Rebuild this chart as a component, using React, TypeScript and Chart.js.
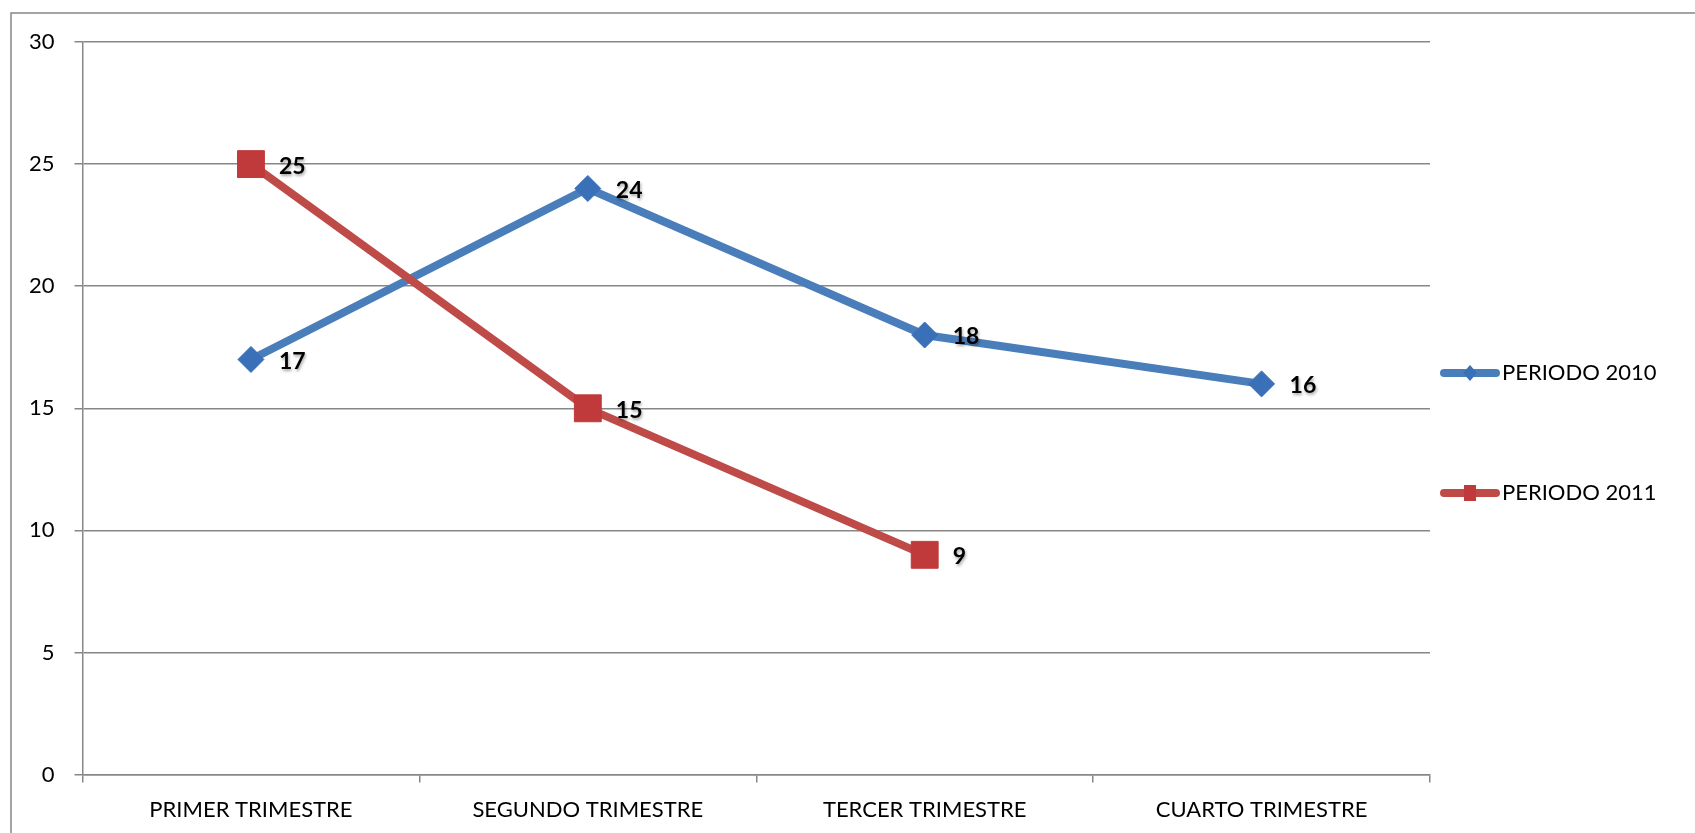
import React, { useEffect, useRef } from 'react';
import { Chart, registerables } from 'chart.js';

Chart.register(...registerables);

const categories = ['PRIMER TRIMESTRE', 'SEGUNDO TRIMESTRE', 'TERCER TRIMESTRE', 'CUARTO TRIMESTRE'];
const periodo2010 = [17, 24, 18, 16];
const periodo2011: (number | null)[] = [25, 15, 9, null];
const seriesNames = ['PERIODO 2010', 'PERIODO 2011'];
const yTicks = [0, 5, 10, 15, 20, 25, 30];

const FONT = 'Lato, "Open Sans", sans-serif';
const GRID = '#878787';
const BLUE_LINE = '#4A7EBB';
const BLUE_MARK = '#3A70B8';
const RED_LINE = '#BE4B48';
const RED_MARK = '#C0393B';

const W = 1695;
const H = 833;

const framePlugin = {
  id: 'frame',
  beforeDraw(chart: any) {
    const ctx = chart.ctx;
    ctx.save();
    ctx.fillStyle = '#ffffff';
    ctx.fillRect(0, 0, chart.width, chart.height);
    ctx.strokeStyle = GRID;
    ctx.lineWidth = 1.5;
    ctx.beginPath();
    ctx.moveTo(11, chart.height);
    ctx.lineTo(11, 13);
    ctx.lineTo(chart.width, 13);
    ctx.stroke();
    ctx.restore();
  },
};

const dataLabelPlugin = {
  id: 'dataLabels',
  afterDatasetsDraw(chart: any) {
    const ctx = chart.ctx;
    ctx.save();
    ctx.font = `bold 23px ${FONT}`;
    ctx.fillStyle = '#000';
    ctx.textAlign = 'left';
    ctx.textBaseline = 'middle';
    ctx.shadowColor = 'rgba(0,0,0,0.35)';
    ctx.shadowBlur = 3;
    ctx.shadowOffsetX = 1;
    ctx.shadowOffsetY = 2;
    chart.data.datasets.forEach((ds: any, i: number) => {
      const meta = chart.getDatasetMeta(i);
      meta.data.forEach((pt: any, j: number) => {
        const v = ds.data[j];
        if (v === null || v === undefined || pt.skip) return;
        ctx.fillText(String(v), pt.x + 28, pt.y + 2);
      });
    });
    ctx.restore();
  },
};

const legendPlugin = {
  id: 'customLegend',
  afterDraw(chart: any) {
    const ctx = chart.ctx;
    const area = chart.chartArea;
    const x0 = area.right + 10;
    const ys = [area.top + 331, area.top + 451];
    ctx.save();
    chart.data.datasets.forEach((ds: any, i: number) => {
      const y = ys[i];
      ctx.strokeStyle = ds.borderColor;
      ctx.lineWidth = 8;
      ctx.lineCap = 'round';
      ctx.beginPath();
      ctx.moveTo(x0 + 4, y);
      ctx.lineTo(x0 + 56, y);
      ctx.stroke();
      ctx.fillStyle = ds.pointBackgroundColor;
      const cx = x0 + 30;
      if (ds.pointStyle === 'rectRot') {
        ctx.beginPath();
        ctx.moveTo(cx - 7, y);
        ctx.lineTo(cx, y - 8);
        ctx.lineTo(cx + 7, y);
        ctx.lineTo(cx, y + 8);
        ctx.closePath();
        ctx.fill();
      } else {
        ctx.fillRect(cx - 6, y - 8, 12, 16);
      }
      ctx.fillStyle = '#000';
      ctx.font = `22px ${FONT}`;
      ctx.textAlign = 'left';
      ctx.textBaseline = 'middle';
      ctx.fillText(ds.label, x0 + 62, y);
    });
    ctx.restore();
  },
};

export default function App() {
  const ref = useRef<HTMLCanvasElement | null>(null);

  useEffect(() => {
    if (!ref.current) return;
    const chart = new Chart(ref.current, {
      type: 'line',
      data: {
        labels: categories,
        datasets: [
          {
            label: seriesNames[0],
            data: periodo2010,
            borderColor: BLUE_LINE,
            backgroundColor: BLUE_MARK,
            pointBackgroundColor: BLUE_MARK,
            pointBorderColor: BLUE_MARK,
            pointBorderWidth: 1,
            pointStyle: 'rectRot',
            pointRadius: 13,
            borderWidth: 8,
            tension: 0,
            order: 1,
          },
          {
            label: seriesNames[1],
            data: periodo2011,
            borderColor: RED_LINE,
            backgroundColor: RED_MARK,
            pointBackgroundColor: RED_MARK,
            pointBorderColor: RED_MARK,
            pointBorderWidth: 1,
            pointStyle: 'rect',
            pointRadius: 19,
            borderWidth: 8,
            tension: 0,
            order: 0,
          },
        ],
      },
      options: {
        animation: false,
        responsive: false,
        devicePixelRatio: 1,
        layout: { padding: { left: 9, right: 265, top: 42, bottom: -4 } },
        plugins: {
          legend: { display: false },
          tooltip: { enabled: false },
          title: { display: false },
        },
        scales: {
          x: {
            type: 'category',
            offset: true,
            grid: {
              offset: true,
              drawOnChartArea: false,
              drawTicks: true,
              tickLength: 8,
              color: GRID,
              lineWidth: 1.5,
            },
            border: { color: GRID, width: 1.5 },
            ticks: {
              color: '#000',
              padding: 14,
              maxRotation: 0,
              autoSkip: false,
              font: { family: FONT, size: 22 },
            },
          },
          y: {
            min: 0,
            max: 30,
            afterBuildTicks: (axis: any) => {
              axis.ticks = yTicks.map((v) => ({ value: v }));
            },
            grid: {
              color: GRID,
              lineWidth: 1.5,
              tickLength: 8,
              tickColor: GRID,
            },
            border: { color: GRID, width: 1.5 },
            ticks: {
              color: '#000',
              padding: 20,
              font: { family: FONT, size: 22 },
            },
          },
        },
      },
      plugins: [framePlugin, dataLabelPlugin, legendPlugin],
    } as any);
    return () => chart.destroy();
  }, []);

  return (
    <div style={{ position: 'absolute', left: 0, top: 0, width: W, height: H }}>
      <canvas ref={ref} width={W} height={H} style={{ width: W, height: H, display: 'block' }} />
    </div>
  );
}
